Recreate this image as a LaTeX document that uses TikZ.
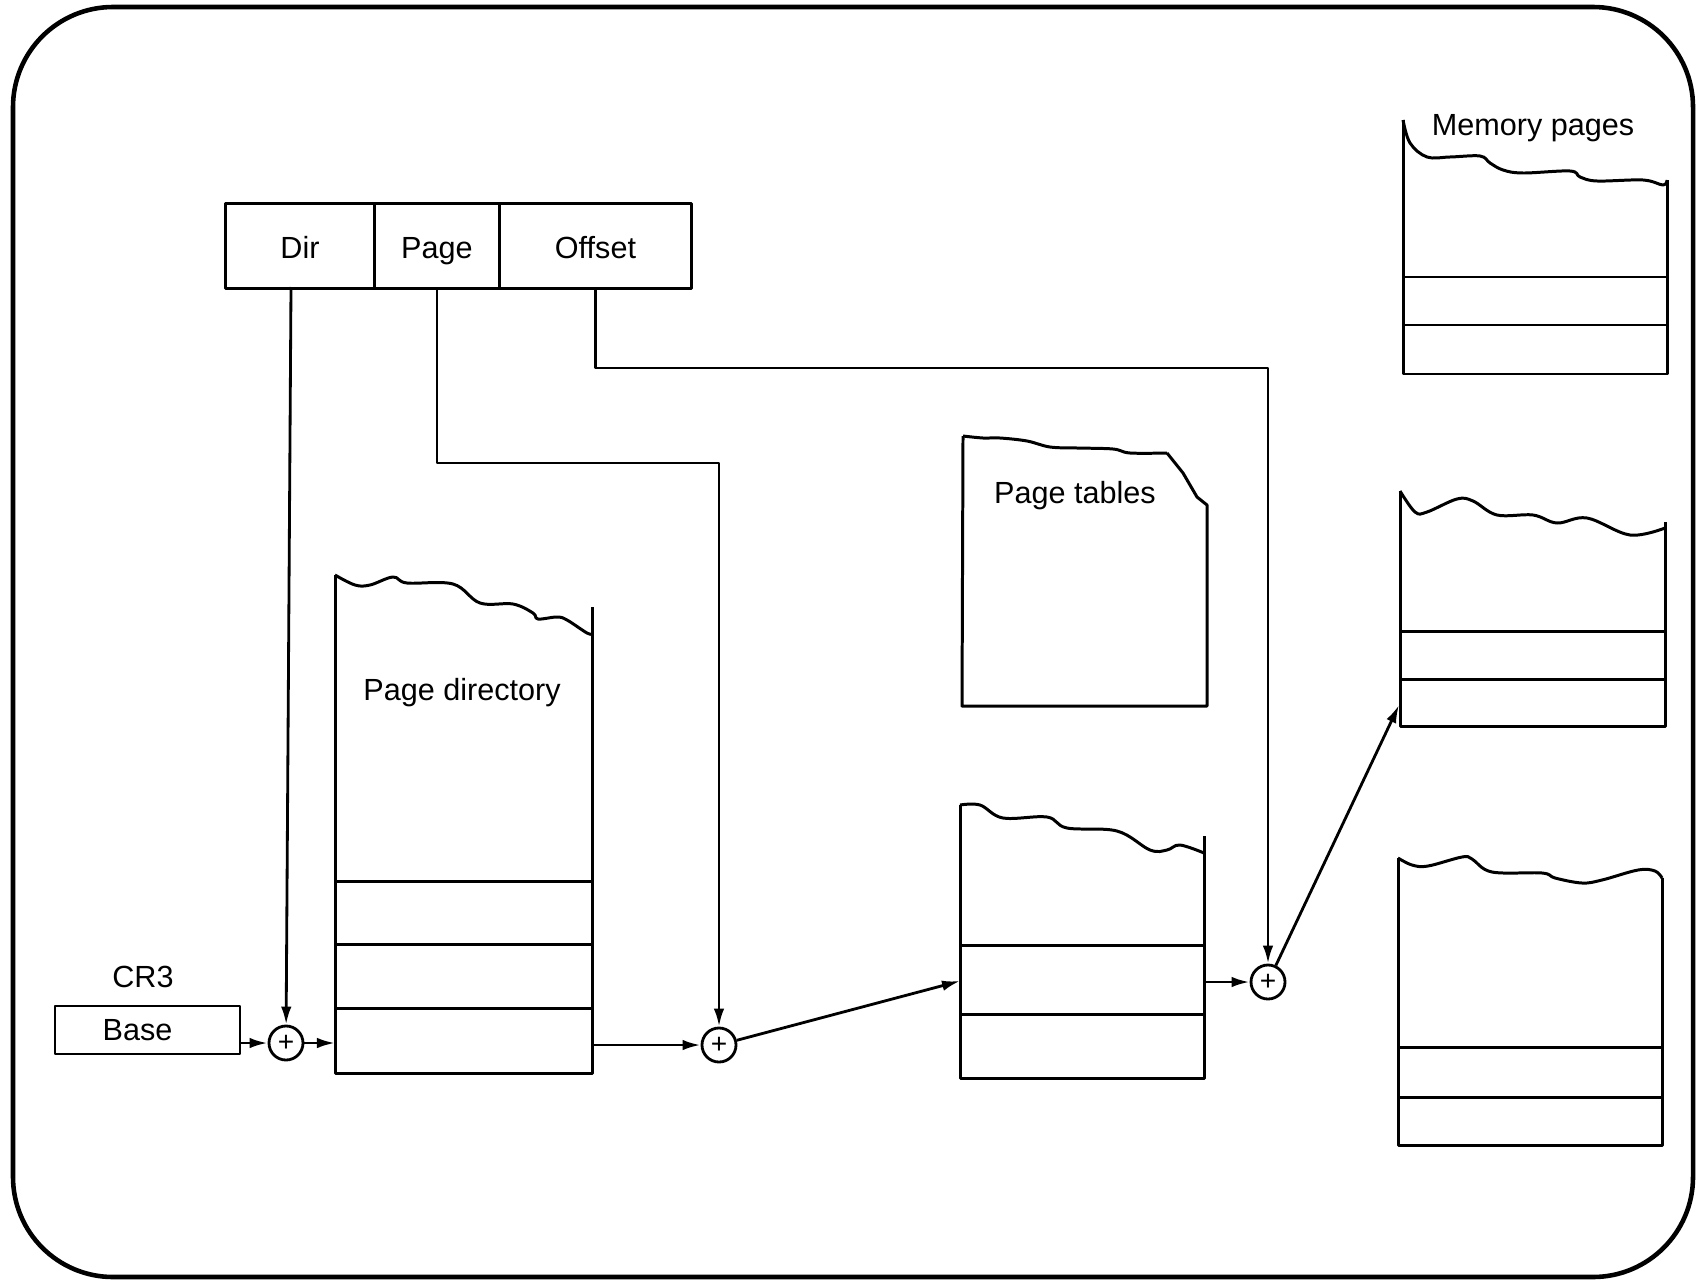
\documentclass[tikz,border=0pt]{standalone}
\usepackage{fontspec}
\setmainfont{Liberation Sans}
\usetikzlibrary{arrows.meta,calc}
\begin{document}
\begin{tikzpicture}[x=0.01cm,y=-0.01cm,
  line join=round,
  frame/.style={line width=1.3pt},
  tbl/.style={line width=0.85pt},
  wave/.style={line width=0.85pt, smooth, tension=0.6},
  conn/.style={line width=0.8pt},
  arr/.style={conn,-{Latex[length=1.8mm,width=1.05mm]}},
  lbl/.style={font=\fontsize{8.7}{10}\selectfont, inner sep=0},
  fld/.style={draw, line width=0.8pt, minimum height=0.85cm, anchor=north west, inner sep=0, text height=0.9em, text depth=0.2em, font=\fontsize{8.7}{10}\selectfont},
  plus/.style={draw, circle, line width=0.8pt, minimum size=0.34cm, inner sep=0, font=\fontsize{8}{8}\selectfont}
]
\useasboundingbox (0,0) rectangle (1698,1282);
% outer frame
\draw[frame, rounded corners=1cm] (13,7) rectangle (1693,1277);

% linear address fields
\node[fld, minimum width=1.49cm] (dir) at (224,202) {Dir};
\node[fld, minimum width=1.25cm] (page) at (373,202) {Page};
\node[fld, minimum width=1.92cm] (offset) at (498,202) {Offset};
\coordinate (dirout) at (291,287);

% CR3 / base
\node[lbl] (cr3) at (143,977) {CR3};
\node[draw, line width=0.8pt, minimum width=1.85cm, minimum height=0.48cm, inner sep=0, font=\fontsize{8.7}{10}\selectfont] (base) at (147.5,1030) {Base\rule{0.2cm}{0pt}};

% adders
\node[plus] (c1) at (286,1043) {+};
\node[plus] (c2) at (719,1045) {+};
\node[plus] (c3) at (1268,982) {+};

% page directory
\draw[wave] plot coordinates {(335,575) (355,585) (370,585) (393,577) (407,583) (453,584) (480,603) (513,604) (533,613) (538,619) (557,617) (567,620) (587,633) (593,634)};
\draw[tbl] (335,575) -- (335,1073) -- (592,1073) -- (592,607);
\foreach \yy in {881,944,1008} \draw[tbl] (335,\yy) -- (592,\yy);
\node[lbl] (pdlbl) at (462,693) {Page directory};
\coordinate (pdin) at (335,1043);
\coordinate (pdout) at (592,1045);

% page tables (label sheet)
\draw[wave] plot coordinates {(963,436) (983,438) (1000,438) (1027,441) (1050,447) (1077,448) (1113,449) (1130,453) (1167,453)};
\draw[tbl] (1167,453) -- (1183,473) -- (1197,497) -- (1207,505) -- (1207,706) -- (962,706) -- (963,436);
\node[lbl] (ptlbl) at (1075,496) {Page tables};

% page table
\draw[wave] plot coordinates {(960,805) (980,805) (1003,818) (1047,817) (1067,828) (1117,831) (1150,850) (1167,850) (1180,845) (1204,853)};
\draw[tbl] (960,805) -- (960,1078) -- (1204,1078) -- (1204,836);
\foreach \yy in {945,1014} \draw[tbl] (960,\yy) -- (1204,\yy);
\coordinate (ptin) at (960,981);
\coordinate (ptout) at (1204,982);

% memory pages
\draw[wave] plot coordinates {(1403,120) (1410,143) (1427,157) (1450,157) (1480,156) (1490,163) (1503,170) (1523,173) (1570,171) (1580,177) (1597,181) (1643,180) (1663,185) (1667,180)};
\draw[tbl] (1403,120) -- (1403,374) -- (1667,374) -- (1667,180);
\foreach \yy in {277,325} \draw[tbl] (1403,\yy) -- (1667,\yy);
\node[lbl] (mplbl) at (1533,128) {Memory pages};

\draw[wave] plot coordinates {(1400,491) (1415,512) (1427,512) (1457,499) (1473,501) (1497,515) (1533,515) (1557,523) (1587,518) (1630,535) (1665,528)};
\draw[tbl] (1400,491) -- (1400,726) -- (1665,726) -- (1665,522);
\foreach \yy in {631,679} \draw[tbl] (1400,\yy) -- (1665,\yy);
\coordinate (mpin) at (1399,705);

\draw[wave] plot coordinates {(1398,858) (1412,865) (1428,866) (1462,857) (1472,859) (1492,872) (1542,873) (1555,878) (1582,883) (1602,880) (1638,870) (1655,871) (1662,878)};
\draw[tbl] (1398,858) -- (1398,1145) -- (1662,1145) -- (1662,878);
\foreach \yy in {1047,1097} \draw[tbl] (1398,\yy) -- (1662,\yy);

% turning points
\coordinate (pturn) at (719,463);
\coordinate (oturn) at (1268,368);

% connectors
\draw[arr] (dirout) -- (c1);
\draw[arr] (page.south) |- (pturn) -- (c2);
\draw[arr] (offset.south) |- (oturn) -- (c3);
\draw[arr] (base.east |- c1) -- (c1);
\draw[arr] (c1) -- (pdin);
\draw[arr] (pdout) -- (c2);
\draw[arr] (c2) -- (ptin);
\draw[arr] (ptout) -- (c3);
\draw[arr] (c3) -- (mpin);
\end{tikzpicture}
\end{document}
